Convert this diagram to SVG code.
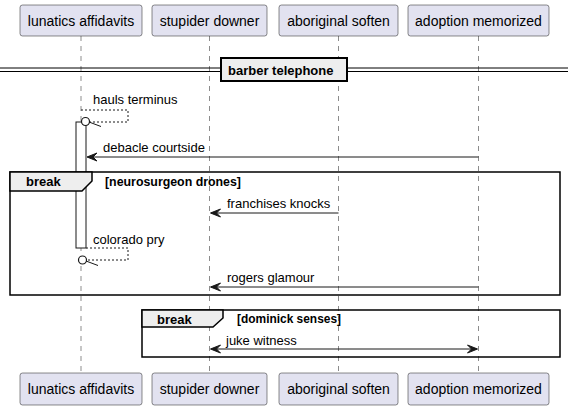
<svg xmlns="http://www.w3.org/2000/svg" width="575" height="410" viewBox="0 0 575 410">
<style>
.p{fill:#E2E2F0;stroke:#181818;stroke-width:0.5}
.pt{font-family:"Liberation Sans",Arial,sans-serif;font-size:14px;fill:#000;text-anchor:middle}
.ll{stroke:#181818;stroke-width:0.5;stroke-dasharray:5,5;fill:none}
.m{font-family:"Liberation Sans",Arial,sans-serif;font-size:13px;fill:#000}
.a{stroke:#181818;stroke-width:1;fill:none}
.d{stroke:#181818;stroke-width:1;fill:none;stroke-dasharray:2,2}
.ah{fill:#181818;stroke:#181818;stroke-width:1}
.fr{fill:none;stroke:#000;stroke-width:1.5}
.hd{fill:#EEEEEE;stroke:#000;stroke-width:1.5}
.b{font-family:"Liberation Sans",Arial,sans-serif;font-size:13px;font-weight:bold;fill:#000}
.c{font-family:"Liberation Sans",Arial,sans-serif;font-size:12px;font-weight:bold;fill:#000}
</style>
<g id="lifelines">
<line class="ll" x1="81" y1="36" x2="81" y2="373"/>
<line class="ll" x1="209.5" y1="36" x2="209.5" y2="373"/>
<line class="ll" x1="338.5" y1="36" x2="338.5" y2="373"/>
<line class="ll" x1="478.5" y1="36" x2="478.5" y2="373"/>
</g>
<g id="p1">
<rect class="p" x="20" y="5" width="122" height="31" rx="2.5"/>
<text class="pt" x="81" y="25.5">lunatics affidavits</text>
<rect class="p" x="20" y="373" width="122" height="32" rx="2.5"/>
<text class="pt" x="81" y="394">lunatics affidavits</text>
</g>
<g id="p2">
<rect class="p" x="152" y="5" width="115" height="31" rx="2.5"/>
<text class="pt" x="209.5" y="25.5">stupider downer</text>
<rect class="p" x="152" y="373" width="115" height="32" rx="2.5"/>
<text class="pt" x="209.5" y="394">stupider downer</text>
</g>
<g id="p3">
<rect class="p" x="279" y="5" width="119" height="31" rx="2.5"/>
<text class="pt" x="338.5" y="25.5">aboriginal soften</text>
<rect class="p" x="279" y="373" width="119" height="32" rx="2.5"/>
<text class="pt" x="338.5" y="394">aboriginal soften</text>
</g>
<g id="p4">
<rect class="p" x="408" y="5" width="141" height="31" rx="2.5"/>
<text class="pt" x="478.5" y="25.5">adoption memorized</text>
<rect class="p" x="408" y="373" width="141" height="32" rx="2.5"/>
<text class="pt" x="478.5" y="394">adoption memorized</text>
</g>
<g id="divider">
<line x1="0" y1="68" x2="568" y2="68" stroke="#000" stroke-width="1"/>
<line x1="0" y1="71.5" x2="568" y2="71.5" stroke="#000" stroke-width="1"/>
<rect x="221" y="58" width="126" height="23" fill="#EEEEEE" stroke="#000" stroke-width="2"/>
<text class="b" x="228" y="75">barber telephone</text>
</g>
<g id="activation">
<rect x="76" y="122" width="10" height="126" fill="#fff" stroke="#181818" stroke-width="1"/>
</g>
<g id="frame1">
<rect class="fr" x="10" y="172" width="550" height="123"/>
<path class="hd" d="M10,172 H92 V181 L82,191 H10 Z"/>
<text class="b" x="26" y="186">break</text>
<text class="c" x="105" y="186" textLength="136" lengthAdjust="spacingAndGlyphs">[neurosurgeon drones]</text>
</g>
<g id="frame2">
<rect class="fr" x="142" y="310" width="418" height="47"/>
<path class="hd" d="M142,310 H223 V318 L213,327 H142 Z"/>
<text class="b" x="157" y="324">break</text>
<text class="c" x="237" y="323" textLength="104" lengthAdjust="spacingAndGlyphs">[dominick senses]</text>
</g>
<g id="connectors">
<path class="d" d="M81,110 H128 V122 H90"/>
<circle cx="85.5" cy="121.5" r="4" fill="#fff" stroke="#181818" stroke-width="1.2"/>
<line class="a" x1="89" y1="122" x2="101" y2="126.5"/>
<text class="m" x="93" y="104">hauls terminus</text>

<line class="a" x1="478.5" y1="157" x2="88" y2="157"/>
<polygon class="ah" points="87,157 97,153 93,157 97,161"/>
<text class="m" x="103" y="152">debacle courtside</text>

<line class="a" x1="338.5" y1="213" x2="211" y2="213"/>
<polygon class="ah" points="210.5,213 220.5,209 216.5,213 220.5,217"/>
<text class="m" x="227" y="208">franchises knocks</text>

<path class="d" d="M86,248 H128 V260 H88"/>
<circle cx="82.5" cy="260" r="4" fill="#fff" stroke="#181818" stroke-width="1.2"/>
<line class="a" x1="86" y1="261" x2="98" y2="265.5"/>
<text class="m" x="93" y="244">colorado pry</text>

<line class="a" x1="478.5" y1="287" x2="211" y2="287"/>
<polygon class="ah" points="210.5,287 220.5,283 216.5,287 220.5,291"/>
<text class="m" x="227" y="282">rogers glamour</text>

<line class="a" x1="212" y1="349" x2="476" y2="349"/>
<polygon class="ah" points="210.5,349 220.5,345 216.5,349 220.5,353"/>
<polygon class="ah" points="477.5,349 467.5,345 471.5,349 467.5,353"/>
<text class="m" x="226" y="345">juke witness</text>
</g>
</svg>
